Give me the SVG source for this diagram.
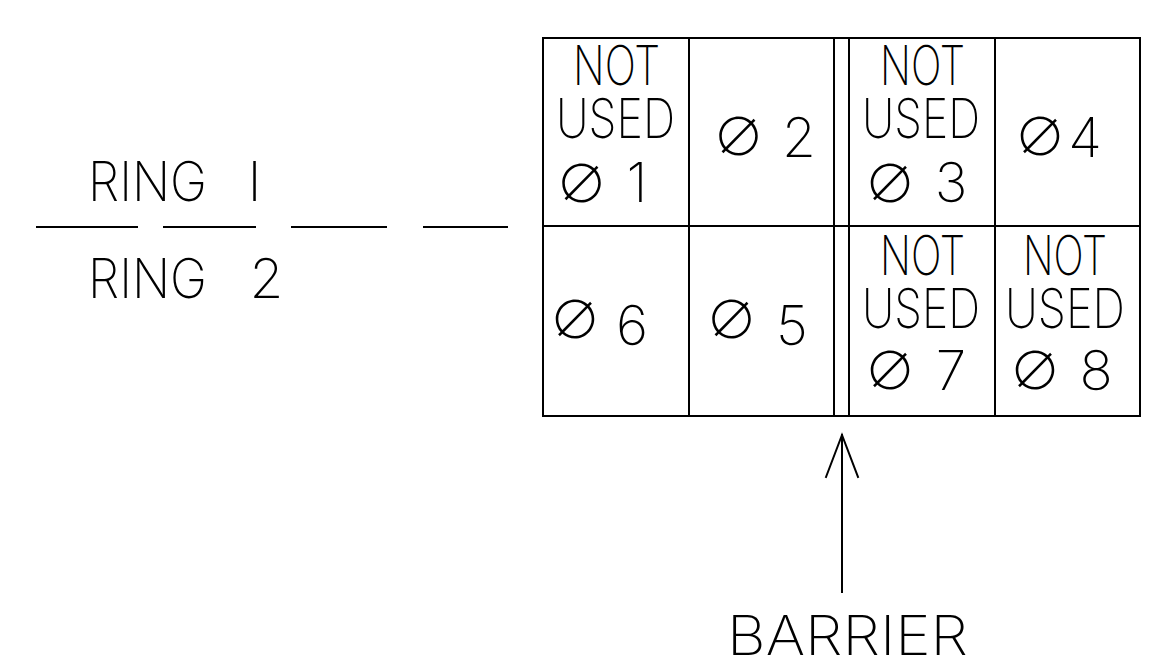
<svg xmlns="http://www.w3.org/2000/svg" width="1175" height="664" viewBox="0 0 1175 664">
  <style>
    .ln { stroke: #000; stroke-width: 2; fill: none; stroke-linecap: square; }
    .t { font-family: Inter, "DejaVu Sans", sans-serif; font-weight: 200; font-size: 55px; fill: #000; }
    .d { font-family: "Noto Sans CJK SC", "Noto Sans", sans-serif; font-weight: 200; font-size: 52px; fill: #000; text-anchor: middle; }
  </style>
  <rect width="1175" height="664" fill="#fff"/>

  <g id="ring-legend">
    <text class="t" y="201"><tspan x="88" textLength="119" lengthAdjust="spacingAndGlyphs">RING</tspan><tspan x="232"> I</tspan></text>
    <g class="ln">
      <line x1="37" y1="227" x2="137" y2="227"/>
      <line x1="164" y1="227" x2="255" y2="227"/>
      <line x1="292" y1="227" x2="386" y2="227"/>
      <line x1="424" y1="227" x2="507" y2="227"/>
    </g>
    <text class="t" y="298"><tspan x="88" textLength="119" lengthAdjust="spacingAndGlyphs">RING</tspan><tspan x="234"> 2</tspan></text>
  </g>

  <g id="grid" class="ln">
    <rect x="543" y="38" width="597" height="378"/>
    <line x1="543" y1="226" x2="1140" y2="226"/>
    <line x1="689" y1="38" x2="689" y2="416"/>
    <line x1="834" y1="38" x2="834" y2="416"/>
    <line x1="849" y1="38" x2="849" y2="416"/>
    <line x1="995" y1="38" x2="995" y2="416"/>
  </g>

  <g id="phase-1">
    <text class="t" x="573" y="85" textLength="87" lengthAdjust="spacingAndGlyphs">NOT</text>
    <text class="t" x="556" y="138" textLength="119" lengthAdjust="spacingAndGlyphs">USED</text>
    <text class="d" x="581.5" y="203">∅</text>
    <text class="t" x="637" y="202" text-anchor="middle">1</text>
  </g>
  <g id="phase-2">
    <text class="d" x="738.5" y="156">∅</text>
    <text class="t" x="799" y="157" text-anchor="middle">2</text>
  </g>
  <g id="phase-3">
    <text class="t" x="880" y="85" textLength="85" lengthAdjust="spacingAndGlyphs">NOT</text>
    <text class="t" x="862" y="138" textLength="118" lengthAdjust="spacingAndGlyphs">USED</text>
    <text class="d" x="890" y="203">∅</text>
    <text class="t" x="951" y="202" text-anchor="middle">3</text>
  </g>
  <g id="phase-4">
    <text class="d" x="1040" y="156">∅</text>
    <text class="t" x="1085" y="157" text-anchor="middle">4</text>
  </g>
  <g id="phase-6">
    <text class="d" x="575" y="339">∅</text>
    <text class="t" x="632" y="345" text-anchor="middle">6</text>
  </g>
  <g id="phase-5">
    <text class="d" x="731.5" y="339">∅</text>
    <text class="t" x="792" y="345" text-anchor="middle">5</text>
  </g>
  <g id="phase-7">
    <text class="t" x="880" y="275" textLength="85" lengthAdjust="spacingAndGlyphs">NOT</text>
    <text class="t" x="862" y="328" textLength="118" lengthAdjust="spacingAndGlyphs">USED</text>
    <text class="d" x="890" y="390">∅</text>
    <text class="t" x="951" y="390" text-anchor="middle">7</text>
  </g>
  <g id="phase-8">
    <text class="t" x="1023" y="275" textLength="84" lengthAdjust="spacingAndGlyphs">NOT</text>
    <text class="t" x="1005" y="328" textLength="120" lengthAdjust="spacingAndGlyphs">USED</text>
    <text class="d" x="1035" y="390">∅</text>
    <text class="t" x="1096" y="390" text-anchor="middle">8</text>
  </g>

  <g id="connectors" class="ln">
    <line x1="842" y1="435" x2="842" y2="592"/>
    <polyline points="826,477 842,435 858,477"/>
  </g>

  <g id="barrier-label">
    <text class="t" x="727" y="655" textLength="241" lengthAdjust="spacingAndGlyphs">BARRIER</text>
  </g>
</svg>
